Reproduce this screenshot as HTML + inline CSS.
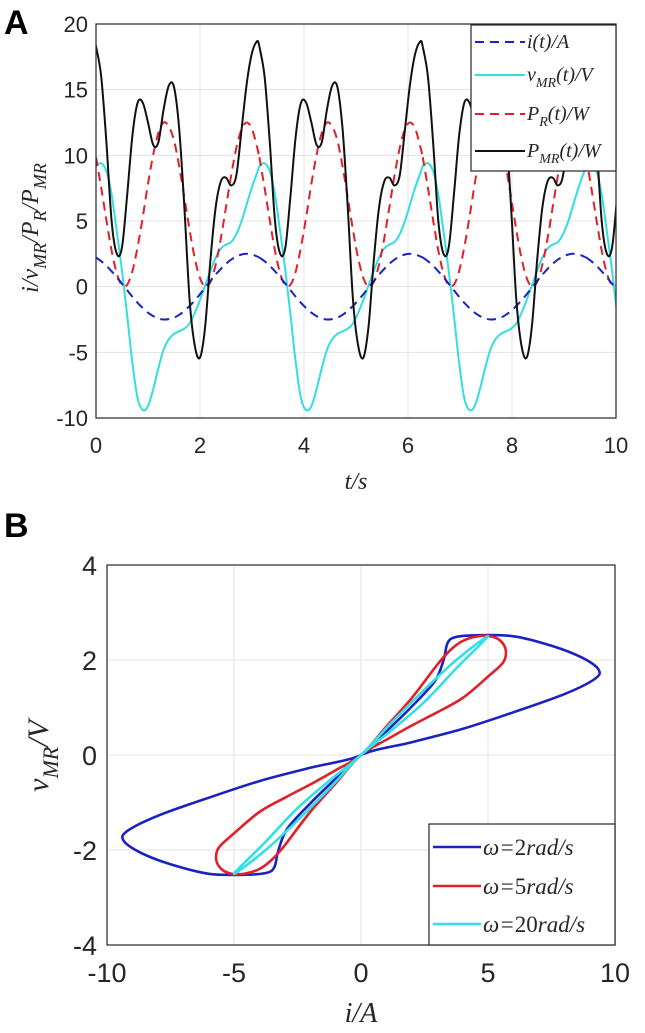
<!DOCTYPE html>
<html><head><meta charset="utf-8"><style>
body{margin:0;background:#fff;}
svg{display:block;}
.tk{font-family:"Liberation Sans",sans-serif;fill:#262626;}
.it{font-family:"Liberation Serif",serif;font-style:italic;fill:#262626;}
</style></head><body>
<svg id="svg" width="645" height="1033" viewBox="0 0 645 1033" xmlns="http://www.w3.org/2000/svg">
<text x="4" y="34" style="font-family:'Liberation Sans',sans-serif;font-weight:bold;font-size:34px;fill:#000">A</text>
<text x="4" y="537" style="font-family:'Liberation Sans',sans-serif;font-weight:bold;font-size:34px;fill:#000">B</text>
<g id="gA"></g>
<g id="gB"></g>
</svg>
<script>
// ---- Chart A data (one period, tau in seconds) ----
const tauBase = [0,0.1,0.2,0.3,0.4,0.5,0.6,0.7,0.8,0.9,1.0,1.1,1.2,1.3,1.4,1.5,1.6,1.7,1.8,1.9,2.0,2.1,2.2,2.3,2.4,2.5,2.6,2.7,2.8,2.9,3.0,3.1];
const periodStarts = [-3.1416,0,3.1416,6.2832,9.4248];
const currentI = [2.22,1.94,1.59,1.17,0.71,0.22,-0.28,-0.77,-1.23,-1.63,-1.98,-2.24,-2.42,-2.50,-2.47,-2.36,-2.14,-1.84,-1.47,-1.04,-0.57,-0.07,0.42,0.91,1.35,1.74,2.06,2.30,2.45,2.50,2.45,2.30];
const voltageV = [9.2,9.4,8.8,7.0,4.2,1.2,-2.2,-5.8,-8.5,-9.4,-9.1,-7.8,-6.2,-4.8,-4.0,-3.6,-3.4,-3.2,-2.8,-2.0,-1.0,0.1,1.2,2.2,2.9,3.2,3.4,4.0,5.0,6.3,7.6,8.7];
const powerR = [9.86,7.53,5.06,2.74,1.01,0.10,0.16,1.18,3.03,5.31,7.84,10.04,11.71,12.5,12.2,11.14,9.16,6.77,4.32,2.16,0.65,0.01,0.35,1.66,3.65,6.06,8.49,10.58,12.0,12.5,12.0,10.58];
const powerMR = [18.3,16.0,11.0,5.0,2.5,3.0,7.0,11.5,14.0,14.0,12.5,10.8,11.0,13.5,15.3,15.2,12.0,6.0,-1.0,-4.5,-5.4,-3.0,2.0,6.0,8.0,8.3,7.7,8.5,12.0,15.5,17.8,18.7];
const xTicksA = [0,2,4,6,8,10];
const yTicksA = [-10,-5,0,5,10,15,20];
// ---- Chart B data ----
const loop2X = [0,1,2,2.9,3.25,3.4,3.7,4.5,6,7.5,8.7,9.35,9.2,8,6,4,2,0,-1,-2,-2.9,-3.25,-3.4,-3.7,-4.5,-6,-7.5,-8.7,-9.35,-9.2,-8,-6,-4,-2,0];
const loop2Y = [0,0.5,1.02,1.55,2.0,2.35,2.48,2.52,2.5,2.3,2.05,1.8,1.6,1.28,0.9,0.55,0.27,0,-0.5,-1.02,-1.55,-2.0,-2.35,-2.48,-2.52,-2.5,-2.3,-2.05,-1.8,-1.6,-1.28,-0.9,-0.55,-0.27,0];
const loop5X = [0,1,2,3,3.5,4,4.6,5.1,5.5,5.7,5.6,5,4,3,2,1,0,-1,-2,-3,-3.5,-4,-4.6,-5.1,-5.5,-5.7,-5.6,-5,-4,-3,-2,-1,0];
const loop5Y = [0,0.6,1.2,1.9,2.2,2.4,2.5,2.5,2.4,2.2,1.95,1.65,1.2,0.9,0.62,0.32,0,-0.6,-1.2,-1.9,-2.2,-2.4,-2.5,-2.5,-2.4,-2.2,-1.95,-1.65,-1.2,-0.9,-0.62,-0.32,0];
const loop20X = [0,1.2,2.5,3.8,5,3.8,2.5,1.2,0,-1.2,-2.5,-3.8,-5,-3.8,-2.5,-1.2,0];
const loop20Y = [0,0.68,1.38,2.02,2.5,1.85,1.12,0.52,0,-0.68,-1.38,-2.02,-2.5,-1.85,-1.12,-0.52,0];
const xTicksB = [-10,-5,0,5,10];
const yTicksB = [-4,-2,0,2,4];

const NS="http://www.w3.org/2000/svg";
function mk(tag,attrs,parent){const e=document.createElementNS(NS,tag);for(const k in attrs)e.setAttribute(k,attrs[k]);parent.appendChild(e);return e;}
function smooth(pts,closed){
  let d="M"+pts[0][0].toFixed(1)+","+pts[0][1].toFixed(1);
  const n=pts.length;
  for(let i=0;i<n-1;i++){
    const p0=pts[i>0?i-1:(closed?n-2:0)],p1=pts[i],p2=pts[i+1],p3=pts[i+2<n?i+2:(closed?1:n-1)];
    const c1=[p1[0]+(p2[0]-p0[0])/6,p1[1]+(p2[1]-p0[1])/6];
    const c2=[p2[0]-(p3[0]-p1[0])/6,p2[1]-(p3[1]-p1[1])/6];
    d+="C"+c1[0].toFixed(1)+","+c1[1].toFixed(1)+" "+c2[0].toFixed(1)+","+c2[1].toFixed(1)+" "+p2[0].toFixed(1)+","+p2[1].toFixed(1);
  }
  return d;
}

// ---- Chart A ----
const gA=document.getElementById('gA');
const AL=96,AR=616,AT=24,AB=418;
const ax=t=>AL+t/10*(AR-AL);
const ay=v=>AB-(v+10)/30*(AB-AT);
mk('defs',{},gA).innerHTML='<clipPath id="clipA"><rect x="96" y="24" width="520" height="394"/></clipPath><clipPath id="clipB"><rect x="107" y="565" width="508" height="380"/></clipPath>';
xTicksA.forEach(t=>{
  const l=mk('line',{x1:ax(t),x2:ax(t),y1:AT,y2:AB,stroke:'#e3e3e3','stroke-width':1},gA);
  
  
  const tx=mk('text',{x:ax(t),y:453,'text-anchor':'middle','font-size':22,class:'tk'},gA);
  
  
  tx.textContent=t;
});
yTicksA.forEach(v=>{
  const l=mk('line',{x1:AL,x2:AR,y1:ay(v),y2:ay(v),stroke:'#e3e3e3','stroke-width':1},gA);
  
  
  const tx=mk('text',{x:88,y:ay(v)+8,'text-anchor':'end','font-size':22,class:'tk'},gA);
  
  
  tx.textContent=v;
});
function seriesA(vals,color,dash,name){
  const g=mk('g',{'clip-path':'url(#clipA)'},gA);
  periodStarts.forEach(p0=>{
    const pts=tauBase.map((tau,i)=>[ax(p0+tau),ay(vals[i])]);
    pts.push([ax(p0+3.1416),ay(vals[0])]);
    const path=mk('path',{d:smooth(pts,false),fill:'none',stroke:color,'stroke-width':2,'stroke-dasharray':dash||'none'},g);
    
    
  });
}
seriesA(voltageV,'#33dede','', 'series-v-mr');
seriesA(powerR,'#e0202a','9,6','series-p-r');
seriesA(currentI,'#1a22c0','9,6','series-i');
seriesA(powerMR,'#111','', 'series-p-mr');
mk('rect',{x:AL,y:AT,width:AR-AL,height:AB-AT,fill:'none',stroke:'#262626','stroke-width':1.2},gA);
// legend A
const legA=mk('g',{},gA);


mk('rect',{x:471,y:25,width:145,height:146,fill:'#fff',stroke:'#262626','stroke-width':1.2},legA);
const legItemsA=[['#1a22c0','9,6','i(t)/A',null],['#33dede','','v','MR'],['#e0202a','9,6','P','R'],['#111','','P','MR']];
legItemsA.forEach((it,k)=>{
  const y=[42,75,114,151][k];
  const l=mk('line',{x1:475,x2:525,y1:y,y2:y,stroke:it[0],'stroke-width':2,'stroke-dasharray':it[1]||'none'},legA);
  
  
  const tx=mk('text',{x:527,y:y+6,'font-size':20,class:'it'},legA);
  
  
  if(it[3]) tx.innerHTML=it[2]+'<tspan dy="6" font-size="14">'+it[3]+'</tspan><tspan dy="-6">(t)/'+(k==1?'V':'W')+'</tspan>';
  else tx.textContent=it[2];
});
const ylA=mk('text',{transform:'translate(38,228) rotate(-90)','text-anchor':'middle','font-size':24,class:'it'},gA);


ylA.innerHTML='i/v<tspan dy="8" font-size="18">MR</tspan><tspan dy="-8">/P</tspan><tspan dy="8" font-size="18">R</tspan><tspan dy="-8">/P</tspan><tspan dy="8" font-size="18">MR</tspan>';
const xlA=mk('text',{x:356,y:489,'text-anchor':'middle','font-size':24,class:'it'},gA);


xlA.textContent='t/s';

// ---- Chart B ----
const gB=document.getElementById('gB');
const BL=107,BR=615,BT=565,BB=945;
const bx=v=>BL+(v+10)/20*(BR-BL);
const by=v=>BB-(v+4)/8*(BB-BT);
xTicksB.forEach(v=>{
  const l=mk('line',{x1:bx(v),x2:bx(v),y1:BT,y2:BB,stroke:'#e3e3e3','stroke-width':1},gB);
  
  
  const tx=mk('text',{x:bx(v),y:982,'text-anchor':'middle','font-size':27,class:'tk'},gB);
  
  
  tx.textContent=v;
});
yTicksB.forEach(v=>{
  const l=mk('line',{x1:BL,x2:BR,y1:by(v),y2:by(v),stroke:'#e3e3e3','stroke-width':1},gB);
  
  
  const tx=mk('text',{x:97,y:by(v)+10,'text-anchor':'end','font-size':27,class:'tk'},gB);
  
  
  tx.textContent=v;
});
function loopB(xs,ys,color,name){
  const pts=xs.map((x,i)=>[bx(x),by(ys[i])]);
  const p=mk('path',{d:smooth(pts,true),fill:'none',stroke:color,'stroke-width':2.6,'clip-path':'url(#clipB)'},gB);
  
  
}
loopB(loop2X,loop2Y,'#1a22c0','loop-omega-2');
loopB(loop5X,loop5Y,'#e0202a','loop-omega-5');
loopB(loop20X,loop20Y,'#33e0e6','loop-omega-20');
mk('rect',{x:BL,y:BT,width:BR-BL,height:BB-BT,fill:'none',stroke:'#262626','stroke-width':1.2},gB);
const legB=mk('g',{},gB);


mk('rect',{x:429,y:824,width:186,height:121,fill:'#fff',stroke:'#262626','stroke-width':1.2},legB);
[['#1a22c0','2'],['#e0202a','5'],['#33e0e6','20']].forEach((it,k)=>{
  const y=[847,886,924][k];
  const l=mk('line',{x1:433,x2:481,y1:y,y2:y,stroke:it[0],'stroke-width':2.6},legB);
  
  
  const tx=mk('text',{x:483,y:y+8,'font-size':23,class:'it'},legB);
  
  
  tx.innerHTML='ω=<tspan font-style="normal">'+it[1]+'</tspan>rad/s';
});
const ylB=mk('text',{transform:'translate(48,756) rotate(-90)','text-anchor':'middle','font-size':30,class:'it'},gB);


ylB.innerHTML='v<tspan dy="10" font-size="22">MR</tspan><tspan dy="-10">/V</tspan>';
const xlB=mk('text',{x:361,y:1022,'text-anchor':'middle','font-size':28,class:'it'},gB);


xlB.textContent='i/A';
</script>
</body></html>
